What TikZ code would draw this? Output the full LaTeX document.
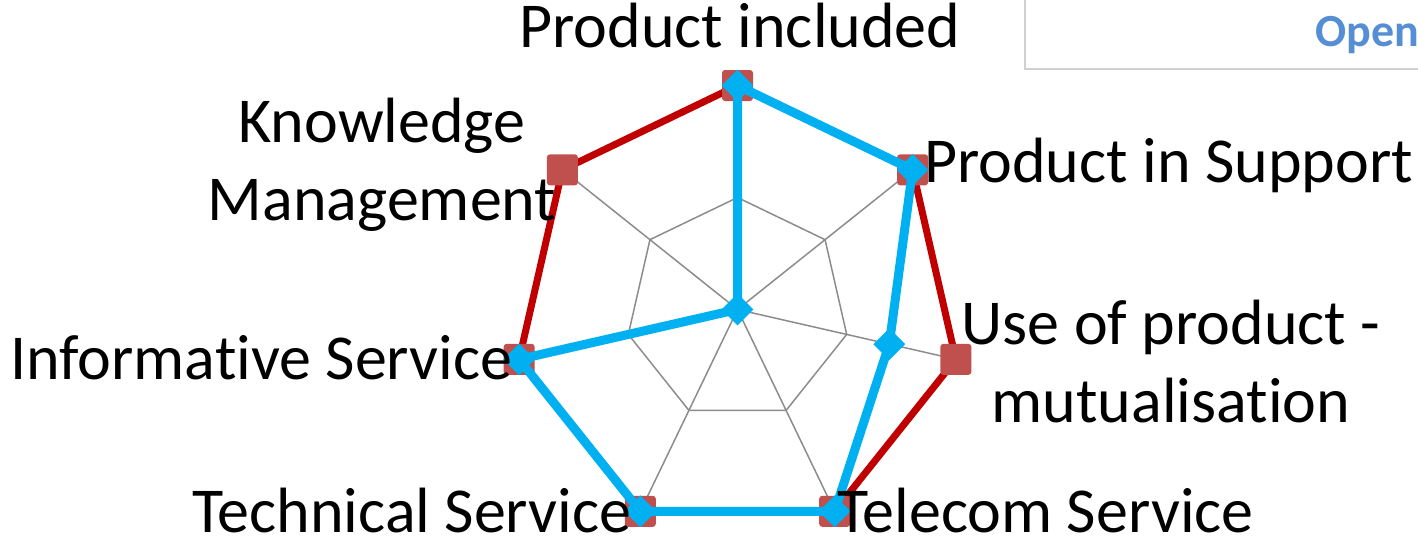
\documentclass[tikz,border=0pt]{standalone}
\usepackage{fontspec}
\setmainfont[Ligatures={NoCommon,NoContextual},RawFeature={-liga;-clig;-calt;-dlig}]{Carlito}
\usetikzlibrary{calc,shapes.geometric}
\definecolor{gridgray}{HTML}{8C8C8C}
\definecolor{redline}{HTML}{C00000}
\definecolor{redmark}{HTML}{C0504D}
\definecolor{blueline}{HTML}{00B0F0}
\definecolor{legendblue}{HTML}{558ED5}
\definecolor{legendframe}{HTML}{D0D0D0}
\begin{document}
\begin{tikzpicture}[x=1pt,y=-1pt,
  gridline/.style={draw=gridgray,line width=1.5pt},
  redseries/.style={draw=redline,line width=7pt,line join=round},
  blueseries/.style={draw=blueline,line width=9pt,line join=round},
  redsq/.style={rectangle,fill=redmark,minimum size=31pt,inner sep=0pt,rounded corners=3pt},
  bluedia/.style={diamond,fill=blueline,minimum size=32pt,inner sep=0pt},
  axislabel/.style={inner sep=0pt,font=\fontsize{64}{78}\selectfont,text=black},
  legendtext/.style={inner sep=0pt,font=\fontsize{46}{55}\selectfont\bfseries,text=legendblue}
]
\useasboundingbox (0,0) rectangle (1418,543);
\clip (0,0) rectangle (1418,543);
% legend frame (cut off)
\draw[legendframe,line width=2pt] (1025,-10) -- (1025,69) -- (1430,69);
\node[legendtext,anchor=base west] (leg) at (1315,47) {Open};
% center and axis vertices
\coordinate (C) at (737.5,309.5);
\foreach \k in {0,...,6}{
  \pgfmathsetmacro{\ang}{90-\k*360/7}
  \coordinate (v\k) at ($(C)+({224*cos(\ang)},{-224*sin(\ang)})$);
  \coordinate (h\k) at ($(C)+({112*cos(\ang)},{-112*sin(\ang)})$);
}
\pgfmathsetmacro{\angb}{90-2*360/7}
\coordinate (b2) at ($(C)+({0.695*224*cos(\angb)},{-0.695*224*sin(\angb)})$);
% grid
\foreach \k in {0,...,6}{ \draw[gridline] (C) -- (v\k); }
\draw[gridline] (h0)--(h1)--(h2)--(h3)--(h4)--(h5)--(h6)--cycle;
\draw[gridline] (v0)--(v1)--(v2)--(v3)--(v4)--(v5)--(v6)--cycle;
% red series
\draw[redseries] (v0)--(v1)--(v2)--(v3)--(v4)--(v5)--(v6)--cycle;
\foreach \k in {0,...,6}{ \node[redsq] (r\k) at (v\k) {}; }
% blue series
\draw[blueseries] (v0)--(v1)--(b2)--(v3)--(v4)--(v5)--(C)--cycle;
\node[bluedia] (d0) at (v0) {};
\node[bluedia] (d1) at (v1) {};
\node[bluedia] (d2) at (b2) {};
\node[bluedia] (d3) at (v3) {};
\node[bluedia] (d4) at (v4) {};
\node[bluedia] (d5) at (v5) {};
\node[bluedia] (d6) at (C) {};
% labels
\node[axislabel,anchor=base] (l0) at (740,48) {Product included};
\node[axislabel,anchor=base west] (l1) at (924,182) {Product in Support};
\node[axislabel,align=center] (l2) at (1171,362) {Use of product -\\mutualisation};
\node[axislabel,anchor=base west] (l3) at (837,532) {Telecom Service};
\node[axislabel,anchor=base west] (l4) at (192,532) {Technical Service};
\node[axislabel,anchor=base west] (l5) at (10,379) {Informative Service};
\node[axislabel,align=center] (l6) at (382,165) {Knowledge\\Management};
\end{tikzpicture}
\end{document}
